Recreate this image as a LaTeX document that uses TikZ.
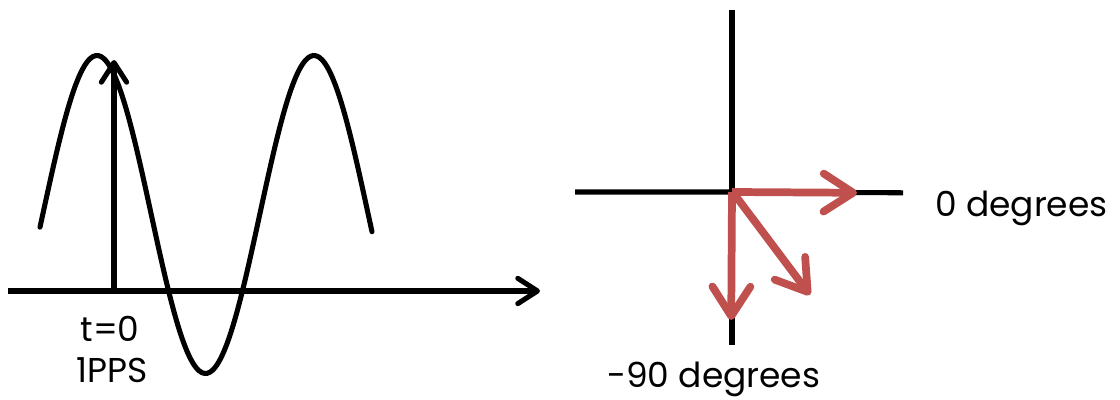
\documentclass[tikz,border=0pt]{standalone}
\usepackage{fontspec}
\setmainfont{Poppins}
\usepackage{xcolor}
\usepackage{tikz}
\usetikzlibrary{arrows.meta}

\definecolor{phasered}{RGB}{192,80,77}

\tikzset{
  axisline/.style={line width=3.6pt, black},
  axisarrow/.style={axisline, -{Straight Barb[length=14pt,width=18pt,round]}},
  phasearrow/.style={line width=5.5pt, phasered, -{Straight Barb[length=21pt,width=27pt,round]}},
  lbl/.style={font=\fontsize{24.5}{29}\selectfont, inner sep=0pt},
}

\begin{document}
\begin{tikzpicture}
  \useasboundingbox (0,0) rectangle (28,10);

  % Draw time axis and trigger
  \coordinate (tstart) at (0.2,2.725);
  \coordinate (tend) at (13.5,2.725);
  \coordinate (trig) at (2.85,2.725);
  \coordinate (trigtop) at (2.85,8.5);
  \draw[axisarrow] (tstart) -- (tend);
  \draw[axisarrow] (trig) -- (trigtop);

  % Draw the wave
  \draw[axisline, line cap=round] plot[domain=1.0:9.3, samples=120, smooth]
    (\x, {4.6375 + 3.975*cos(360*(\x-2.425)/5.425)});

  % Trigger labels
  \node[lbl, anchor=base] (tzero) at (2.75,1.45) {t=0};
  \node[lbl, anchor=base] (pps) at (2.8,0.425) {1PPS};

  % Draw phase axes
  \coordinate (origin) at (18.3,5.2);
  \coordinate (west) at (14.375,5.2);
  \coordinate (east) at (22.575,5.18);
  \coordinate (north) at (18.3,9.75);
  \coordinate (south) at (18.3,1.375);
  \draw[axisline] (west) -- (origin) -- (east);
  \draw[axisline] (north) -- (south);

  % Draw phase vectors
  \coordinate (zerotip) at (21.425,5.18);
  \coordinate (minustip) at (18.28,2.0);
  \coordinate (midtip) at (20.25,2.625);
  \draw[phasearrow] (origin) -- (zerotip);
  \draw[phasearrow] (origin) -- (minustip);
  \draw[phasearrow] ([xshift=2pt,yshift=-2pt]origin) -- (midtip);

  % Phase labels
  \node[lbl, anchor=base west] (zerodeg) at (23.375,4.575) {0 degrees};
  \node[lbl, anchor=base west] (minusdeg) at (15.175,0.3) {-90 degrees};
\end{tikzpicture}
\end{document}
